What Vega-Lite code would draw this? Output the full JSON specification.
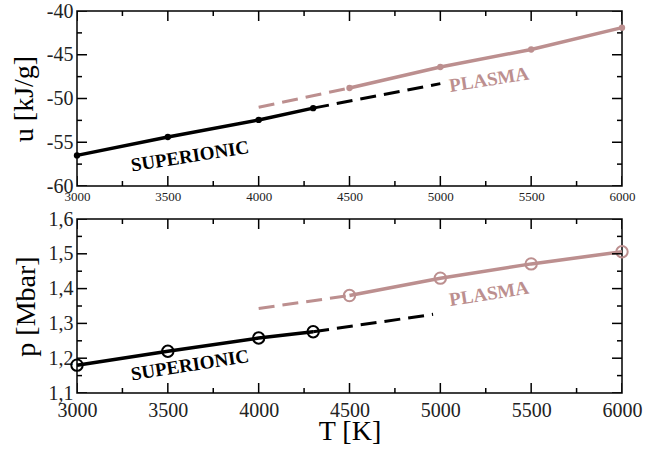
{
  "$schema": "https://vega.github.io/schema/vega-lite/v6.json",
  "padding": {"left": 9, "top": 0, "right": 5, "bottom": 0},
  "background": "white",
  "spacing": 4,
  "datasets": {
    "u": [
      {"T": 3000, "v": -56.5, "s": "sup", "k": "solid"},
      {"T": 3500, "v": -54.4, "s": "sup", "k": "solid"},
      {"T": 4000, "v": -52.45, "s": "sup", "k": "solid"},
      {"T": 4300, "v": -51.1, "s": "sup", "k": "solid"},
      {"T": 4300, "v": -51.1, "s": "sup", "k": "dash"},
      {"T": 5000, "v": -48.3, "s": "sup", "k": "dash"},
      {"T": 4500, "v": -48.8, "s": "pla", "k": "solid"},
      {"T": 5000, "v": -46.4, "s": "pla", "k": "solid"},
      {"T": 5500, "v": -44.4, "s": "pla", "k": "solid"},
      {"T": 6000, "v": -41.9, "s": "pla", "k": "solid"},
      {"T": 4000, "v": -51.0, "s": "pla", "k": "dash"},
      {"T": 4500, "v": -48.8, "s": "pla", "k": "dash"}
    ],
    "p": [
      {"T": 3000, "v": 1.18, "s": "sup", "k": "solid"},
      {"T": 3500, "v": 1.22, "s": "sup", "k": "solid"},
      {"T": 4000, "v": 1.258, "s": "sup", "k": "solid"},
      {"T": 4300, "v": 1.276, "s": "sup", "k": "solid"},
      {"T": 4300, "v": 1.276, "s": "sup", "k": "dash"},
      {"T": 4960, "v": 1.326, "s": "sup", "k": "dash"},
      {"T": 4500, "v": 1.38, "s": "pla", "k": "solid"},
      {"T": 5000, "v": 1.43, "s": "pla", "k": "solid"},
      {"T": 5500, "v": 1.471, "s": "pla", "k": "solid"},
      {"T": 6000, "v": 1.506, "s": "pla", "k": "solid"},
      {"T": 4000, "v": 1.343, "s": "pla", "k": "dash"},
      {"T": 4500, "v": 1.38, "s": "pla", "k": "dash"}
    ],
    "lab_u": [
      {"T": 3622, "v": -56.6, "txt": "SUPERIONIC", "s": "sup"},
      {"T": 5268, "v": -47.85, "txt": "PLASMA", "s": "pla"}
    ],
    "lab_p": [
      {"T": 3622, "v": 1.18, "txt": "SUPERIONIC", "s": "sup"},
      {"T": 5268, "v": 1.385, "txt": "PLASMA", "s": "pla"}
    ],
    "tick_u": [
      {"T": 3000, "v": -60, "o": "v", "m": 1}, {"T": 3250, "v": -60, "o": "v", "m": 0}, {"T": 3500, "v": -60, "o": "v", "m": 1}, {"T": 3750, "v": -60, "o": "v", "m": 0},
      {"T": 4000, "v": -60, "o": "v", "m": 1}, {"T": 4250, "v": -60, "o": "v", "m": 0}, {"T": 4500, "v": -60, "o": "v", "m": 1}, {"T": 4750, "v": -60, "o": "v", "m": 0},
      {"T": 5000, "v": -60, "o": "v", "m": 1}, {"T": 5250, "v": -60, "o": "v", "m": 0}, {"T": 5500, "v": -60, "o": "v", "m": 1}, {"T": 5750, "v": -60, "o": "v", "m": 0},
      {"T": 6000, "v": -60, "o": "v", "m": 1},
      {"T": 3000, "v": -40, "o": "v", "m": 1}, {"T": 3250, "v": -40, "o": "v", "m": 0}, {"T": 3500, "v": -40, "o": "v", "m": 1}, {"T": 3750, "v": -40, "o": "v", "m": 0},
      {"T": 4000, "v": -40, "o": "v", "m": 1}, {"T": 4250, "v": -40, "o": "v", "m": 0}, {"T": 4500, "v": -40, "o": "v", "m": 1}, {"T": 4750, "v": -40, "o": "v", "m": 0},
      {"T": 5000, "v": -40, "o": "v", "m": 1}, {"T": 5250, "v": -40, "o": "v", "m": 0}, {"T": 5500, "v": -40, "o": "v", "m": 1}, {"T": 5750, "v": -40, "o": "v", "m": 0},
      {"T": 6000, "v": -40, "o": "v", "m": 1},
      {"T": 3000, "v": -60, "o": "h", "m": 1}, {"T": 3000, "v": -57.5, "o": "h", "m": 0}, {"T": 3000, "v": -55, "o": "h", "m": 1}, {"T": 3000, "v": -52.5, "o": "h", "m": 0},
      {"T": 3000, "v": -50, "o": "h", "m": 1}, {"T": 3000, "v": -47.5, "o": "h", "m": 0}, {"T": 3000, "v": -45, "o": "h", "m": 1}, {"T": 3000, "v": -42.5, "o": "h", "m": 0},
      {"T": 3000, "v": -40, "o": "h", "m": 1},
      {"T": 6000, "v": -60, "o": "h", "m": 1}, {"T": 6000, "v": -57.5, "o": "h", "m": 0}, {"T": 6000, "v": -55, "o": "h", "m": 1}, {"T": 6000, "v": -52.5, "o": "h", "m": 0},
      {"T": 6000, "v": -50, "o": "h", "m": 1}, {"T": 6000, "v": -47.5, "o": "h", "m": 0}, {"T": 6000, "v": -45, "o": "h", "m": 1}, {"T": 6000, "v": -42.5, "o": "h", "m": 0},
      {"T": 6000, "v": -40, "o": "h", "m": 1}
    ],
    "tick_p": [
      {"T": 3000, "v": 1.1, "o": "v", "m": 1}, {"T": 3250, "v": 1.1, "o": "v", "m": 0}, {"T": 3500, "v": 1.1, "o": "v", "m": 1}, {"T": 3750, "v": 1.1, "o": "v", "m": 0},
      {"T": 4000, "v": 1.1, "o": "v", "m": 1}, {"T": 4250, "v": 1.1, "o": "v", "m": 0}, {"T": 4500, "v": 1.1, "o": "v", "m": 1}, {"T": 4750, "v": 1.1, "o": "v", "m": 0},
      {"T": 5000, "v": 1.1, "o": "v", "m": 1}, {"T": 5250, "v": 1.1, "o": "v", "m": 0}, {"T": 5500, "v": 1.1, "o": "v", "m": 1}, {"T": 5750, "v": 1.1, "o": "v", "m": 0},
      {"T": 6000, "v": 1.1, "o": "v", "m": 1},
      {"T": 3000, "v": 1.6, "o": "v", "m": 1}, {"T": 3250, "v": 1.6, "o": "v", "m": 0}, {"T": 3500, "v": 1.6, "o": "v", "m": 1}, {"T": 3750, "v": 1.6, "o": "v", "m": 0},
      {"T": 4000, "v": 1.6, "o": "v", "m": 1}, {"T": 4250, "v": 1.6, "o": "v", "m": 0}, {"T": 4500, "v": 1.6, "o": "v", "m": 1}, {"T": 4750, "v": 1.6, "o": "v", "m": 0},
      {"T": 5000, "v": 1.6, "o": "v", "m": 1}, {"T": 5250, "v": 1.6, "o": "v", "m": 0}, {"T": 5500, "v": 1.6, "o": "v", "m": 1}, {"T": 5750, "v": 1.6, "o": "v", "m": 0},
      {"T": 6000, "v": 1.6, "o": "v", "m": 1},
      {"T": 3000, "v": 1.1, "o": "h", "m": 1}, {"T": 3000, "v": 1.15, "o": "h", "m": 0}, {"T": 3000, "v": 1.2, "o": "h", "m": 1}, {"T": 3000, "v": 1.25, "o": "h", "m": 0},
      {"T": 3000, "v": 1.3, "o": "h", "m": 1}, {"T": 3000, "v": 1.35, "o": "h", "m": 0}, {"T": 3000, "v": 1.4, "o": "h", "m": 1}, {"T": 3000, "v": 1.45, "o": "h", "m": 0},
      {"T": 3000, "v": 1.5, "o": "h", "m": 1}, {"T": 3000, "v": 1.55, "o": "h", "m": 0}, {"T": 3000, "v": 1.6, "o": "h", "m": 1},
      {"T": 6000, "v": 1.1, "o": "h", "m": 1}, {"T": 6000, "v": 1.15, "o": "h", "m": 0}, {"T": 6000, "v": 1.2, "o": "h", "m": 1}, {"T": 6000, "v": 1.25, "o": "h", "m": 0},
      {"T": 6000, "v": 1.3, "o": "h", "m": 1}, {"T": 6000, "v": 1.35, "o": "h", "m": 0}, {"T": 6000, "v": 1.4, "o": "h", "m": 1}, {"T": 6000, "v": 1.45, "o": "h", "m": 0},
      {"T": 6000, "v": 1.5, "o": "h", "m": 1}, {"T": 6000, "v": 1.55, "o": "h", "m": 0}, {"T": 6000, "v": 1.6, "o": "h", "m": 1}
    ]
  },
  "vconcat": [
    {
      "width": 545,
      "height": 175,
      "resolve": {"axis": {"x": "independent", "y": "independent"}},
      "layer": [
        {
          "data": {"name": "u"},
          "transform": [{"filter": "datum.k === 'solid'"}],
          "mark": {"type": "line", "strokeWidth": 3.5},
          "encoding": {
            "x": {"field": "T", "type": "quantitative", "scale": {"domain": [3000, 6000], "nice": false, "zero": false},
              "axis": {"orient": "bottom", "title": null, "values": [3000,3500,4000,4500,5000,5500,6000],
                "format": "d", "labelFontSize": 13, "labelPadding": 4, "ticks": false, "tickSize": 0}},
            "y": {"field": "v", "type": "quantitative", "scale": {"domain": [-60, -40], "nice": false, "zero": false},
              "axis": {"orient": "left", "title": "u [kJ/g]", "values": [-60,-55,-50,-45,-40],
                "labelExpr": "'-' + format(-datum.value, 'd')", "labelFontSize": 20, "labelPadding": 4, "ticks": false, "tickSize": 0}},
            "color": {"field": "s", "type": "nominal", "scale": {"domain": ["sup", "pla"], "range": ["#000000", "#BC8F8F"]}, "legend": null}
          }
        },
        {
          "data": {"name": "u"},
          "transform": [{"filter": "datum.k === 'dash'"}],
          "mark": {"type": "line", "strokeWidth": 3, "strokeDash": [16, 8]},
          "encoding": {
            "x": {"field": "T", "type": "quantitative", "axis": null},
            "y": {"field": "v", "type": "quantitative", "axis": null},
            "color": {"field": "s", "type": "nominal", "legend": null}
          }
        },
        {
          "data": {"name": "u"},
          "transform": [{"filter": "datum.k === 'solid'"}],
          "mark": {"type": "point", "filled": true, "size": 40, "opacity": 1},
          "encoding": {
            "x": {"field": "T", "type": "quantitative", "axis": null},
            "y": {"field": "v", "type": "quantitative", "axis": null},
            "color": {"field": "s", "type": "nominal", "legend": null}
          }
        },
        {
          "data": {"name": "tick_u"},
          "transform": [{"filter": "datum.o === 'v' && datum.m === 1"}],
          "mark": {"type": "tick", "orient": "vertical", "size": 20, "thickness": 1.5, "clip": true, "color": "#000000", "opacity": 1},
          "encoding": {
            "x": {"field": "T", "type": "quantitative", "axis": null},
            "y": {"field": "v", "type": "quantitative", "axis": null}
          }
        },
        {
          "data": {"name": "tick_u"},
          "transform": [{"filter": "datum.o === 'v' && datum.m === 0"}],
          "mark": {"type": "tick", "orient": "vertical", "size": 10, "thickness": 1.5, "clip": true, "color": "#000000", "opacity": 1},
          "encoding": {
            "x": {"field": "T", "type": "quantitative", "axis": null},
            "y": {"field": "v", "type": "quantitative", "axis": null}
          }
        },
        {
          "data": {"name": "tick_u"},
          "transform": [{"filter": "datum.o === 'h' && datum.m === 1"}],
          "mark": {"type": "tick", "orient": "horizontal", "size": 20, "thickness": 1.5, "clip": true, "color": "#000000", "opacity": 1},
          "encoding": {
            "x": {"field": "T", "type": "quantitative", "axis": null},
            "y": {"field": "v", "type": "quantitative", "axis": null}
          }
        },
        {
          "data": {"name": "tick_u"},
          "transform": [{"filter": "datum.o === 'h' && datum.m === 0"}],
          "mark": {"type": "tick", "orient": "horizontal", "size": 10, "thickness": 1.5, "clip": true, "color": "#000000", "opacity": 1},
          "encoding": {
            "x": {"field": "T", "type": "quantitative", "axis": null},
            "y": {"field": "v", "type": "quantitative", "axis": null}
          }
        },
        {
          "data": {"name": "lab_u"},
          "mark": {"type": "text", "font": "Liberation Serif", "fontWeight": "bold", "fontSize": 19, "angle": -9, "align": "center", "baseline": "middle"},
          "encoding": {
            "x": {"field": "T", "type": "quantitative", "axis": null},
            "y": {"field": "v", "type": "quantitative", "axis": null},
            "text": {"field": "txt"},
            "color": {"field": "s", "type": "nominal", "legend": null}
          }
        }
      ]
    },
    {
      "width": 545,
      "height": 174,
      "resolve": {"axis": {"x": "independent", "y": "independent"}},
      "layer": [
        {
          "data": {"name": "p"},
          "transform": [{"filter": "datum.k === 'solid'"}],
          "mark": {"type": "line", "strokeWidth": 3.5},
          "encoding": {
            "x": {"field": "T", "type": "quantitative", "scale": {"domain": [3000, 6000], "nice": false, "zero": false},
              "axis": {"orient": "bottom", "title": "T [K]", "titleFontSize": 28, "titlePadding": -3, "values": [3000,3500,4000,4500,5000,5500,6000],
                "format": "d", "labelFontSize": 20, "labelPadding": 7, "ticks": false, "tickSize": 0}},
            "y": {"field": "v", "type": "quantitative", "scale": {"domain": [1.1, 1.6], "nice": false, "zero": false},
              "axis": {"orient": "left", "title": "p [Mbar]", "values": [1.1,1.2,1.3,1.4,1.5,1.6],
                "labelExpr": "replace(format(datum.value, '.1f'), '.', ',')", "labelFontSize": 20, "labelPadding": 4, "ticks": false, "tickSize": 0}},
            "color": {"field": "s", "type": "nominal", "scale": {"domain": ["sup", "pla"], "range": ["#000000", "#BC8F8F"]}, "legend": null}
          }
        },
        {
          "data": {"name": "p"},
          "transform": [{"filter": "datum.k === 'dash'"}],
          "mark": {"type": "line", "strokeWidth": 3, "strokeDash": [16, 8]},
          "encoding": {
            "x": {"field": "T", "type": "quantitative", "axis": null},
            "y": {"field": "v", "type": "quantitative", "axis": null},
            "color": {"field": "s", "type": "nominal", "legend": null}
          }
        },
        {
          "data": {"name": "p"},
          "transform": [{"filter": "datum.k === 'solid'"}],
          "mark": {"type": "point", "filled": false, "size": 130, "strokeWidth": 2, "opacity": 1},
          "encoding": {
            "x": {"field": "T", "type": "quantitative", "axis": null},
            "y": {"field": "v", "type": "quantitative", "axis": null},
            "color": {"field": "s", "type": "nominal", "legend": null}
          }
        },
        {
          "data": {"name": "tick_p"},
          "transform": [{"filter": "datum.o === 'v' && datum.m === 1"}],
          "mark": {"type": "tick", "orient": "vertical", "size": 20, "thickness": 1.5, "clip": true, "color": "#000000", "opacity": 1},
          "encoding": {
            "x": {"field": "T", "type": "quantitative", "axis": null},
            "y": {"field": "v", "type": "quantitative", "axis": null}
          }
        },
        {
          "data": {"name": "tick_p"},
          "transform": [{"filter": "datum.o === 'v' && datum.m === 0"}],
          "mark": {"type": "tick", "orient": "vertical", "size": 10, "thickness": 1.5, "clip": true, "color": "#000000", "opacity": 1},
          "encoding": {
            "x": {"field": "T", "type": "quantitative", "axis": null},
            "y": {"field": "v", "type": "quantitative", "axis": null}
          }
        },
        {
          "data": {"name": "tick_p"},
          "transform": [{"filter": "datum.o === 'h' && datum.m === 1"}],
          "mark": {"type": "tick", "orient": "horizontal", "size": 20, "thickness": 1.5, "clip": true, "color": "#000000", "opacity": 1},
          "encoding": {
            "x": {"field": "T", "type": "quantitative", "axis": null},
            "y": {"field": "v", "type": "quantitative", "axis": null}
          }
        },
        {
          "data": {"name": "tick_p"},
          "transform": [{"filter": "datum.o === 'h' && datum.m === 0"}],
          "mark": {"type": "tick", "orient": "horizontal", "size": 10, "thickness": 1.5, "clip": true, "color": "#000000", "opacity": 1},
          "encoding": {
            "x": {"field": "T", "type": "quantitative", "axis": null},
            "y": {"field": "v", "type": "quantitative", "axis": null}
          }
        },
        {
          "data": {"name": "lab_p"},
          "mark": {"type": "text", "font": "Liberation Serif", "fontWeight": "bold", "fontSize": 19, "angle": -9, "align": "center", "baseline": "middle"},
          "encoding": {
            "x": {"field": "T", "type": "quantitative", "axis": null},
            "y": {"field": "v", "type": "quantitative", "axis": null},
            "text": {"field": "txt"},
            "color": {"field": "s", "type": "nominal", "legend": null}
          }
        }
      ]
    }
  ],
  "config": {
    "view": {"stroke": "#000000", "strokeWidth": 1.5},
    "axis": {
      "labelFont": "Liberation Serif", "titleFont": "Liberation Serif", "titleFontWeight": "normal",
      "titleFontSize": 28, "titleColor": "#000000", "labelColor": "#222222", "domain": false,
      "grid": false, "labelOverlap": false, "labelFlush": false, "labelBound": false, "titlePadding": 8
    }
  }
}
